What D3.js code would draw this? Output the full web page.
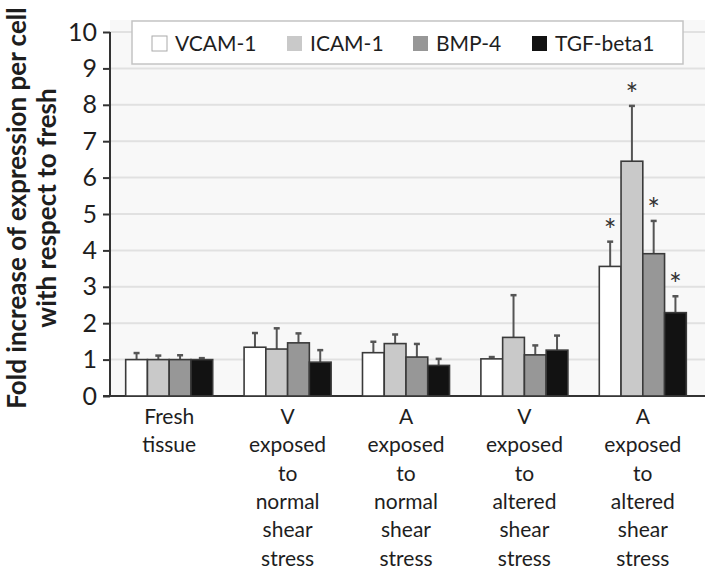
<!DOCTYPE html>
<html>
<head>
<meta charset="utf-8">
<script src="https://cdn.jsdelivr.net/npm/d3@7"></script>
<style>
  body { margin: 0; background: #fff; }
  text { font-family: Lato, "Open Sans", sans-serif; fill: #1e1e1e; }
</style>
</head>
<body>
<svg id="chart" width="714" height="576"></svg>
<script>
// categories (x axis), one label line per entry
var groups = ["fresh", "vNormal", "aNormal", "vAltered", "aAltered"];
var groupLabels = [
    ["Fresh", "tissue"],
    ["V", "exposed", "to", "normal", "shear", "stress"],
    ["A", "exposed", "to", "normal", "shear", "stress"],
    ["V", "exposed", "to", "altered", "shear", "stress"],
    ["A", "exposed", "to", "altered", "shear", "stress"]
];

var seriesNames = ["VCAM-1", "ICAM-1", "BMP-4", "TGF-beta1"];
var seriesColors = ["#ffffff", "#c9c9c9", "#979797", "#121212"];

// mean fold increase, per series, per group
var vcam = [1.00, 1.34, 1.19, 1.02, 3.56];
var icam = [1.00, 1.29, 1.44, 1.61, 6.45];
var bmp4 = [1.00, 1.46, 1.07, 1.13, 3.91];
var tgfb = [1.00, 0.93, 0.84, 1.26, 2.29];

// upper error bar length
var vcamErr = [0.18, 0.39, 0.30, 0.05, 0.68];
var icamErr = [0.11, 0.57, 0.25, 1.16, 1.52];
var bmp4Err = [0.12, 0.26, 0.36, 0.26, 0.90];
var tgfbErr = [0.04, 0.33, 0.18, 0.40, 0.45];

// significance stars
var vcamSig = [0, 0, 0, 0, 1];
var icamSig = [0, 0, 0, 0, 1];
var bmp4Sig = [0, 0, 0, 0, 1];
var tgfbSig = [0, 0, 0, 0, 1];

var yTicks = [0, 1, 2, 3, 4, 5, 6, 7, 8, 9, 10];

var allValues = [vcam, icam, bmp4, tgfb];
var allErr = [vcamErr, icamErr, bmp4Err, tgfbErr];
var allSig = [vcamSig, icamSig, bmp4Sig, tgfbSig];

var bars = [];
for (var s = 0; s < seriesNames.length; ++s) {
    for (var g = 0; g < groups.length; ++g) {
        bars.push({group: groups[g], series: seriesNames[s], color: seriesColors[s],
                   value: allValues[s][g], err: allErr[s][g], sig: allSig[s][g]});
    }
}

var svg = d3.select("#chart");
var plotLeft = 110, plotRight = 705, plotTop = 20, plotBottom = 396;

var x0 = d3.scaleBand().domain(groups).range([110, 702])
    .paddingInner(0.265).paddingOuter(0.1325);
var x1 = d3.scaleBand().domain(seriesNames).range([0, x0.bandwidth()]);
var y = d3.scaleLinear().domain([0, 10]).range([396, 32]);

function barMid(d) { return x0(d.group) + x1(d.series) + x1.bandwidth() / 2; }

// plot background
svg.append("rect")
    .attr("x", plotLeft).attr("y", plotTop)
    .attr("width", plotRight - plotLeft).attr("height", plotBottom - plotTop)
    .attr("fill", "#f8f8f8");

// grid lines
svg.append("g").selectAll("line")
    .data(yTicks.slice(1))
    .enter().append("line")
    .attr("x1", plotLeft).attr("x2", plotRight)
    .attr("y1", function(d) { return y(d); })
    .attr("y2", function(d) { return y(d); })
    .attr("stroke", "#e1e1e1")
    .attr("stroke-width", 2);

// y axis
var yAxis = svg.append("g")
    .attr("transform", "translate(" + plotLeft + ",0)")
    .call(d3.axisLeft(y).tickValues(yTicks).tickSize(7).tickPadding(6));
yAxis.select(".domain").attr("stroke", "#333").attr("stroke-width", 2)
    .attr("d", "M0," + y(10) + "V" + y(0));
yAxis.selectAll(".tick line").attr("stroke", "#333").attr("stroke-width", 2);
yAxis.selectAll(".tick text")
    .style("font-family", "Lato, 'Open Sans', sans-serif")
    .style("font-size", "25px")
    .attr("fill", "#111");

// x axis baseline
svg.append("line")
    .attr("x1", plotLeft - 7).attr("x2", plotRight)
    .attr("y1", y(0)).attr("y2", y(0))
    .attr("stroke", "#333").attr("stroke-width", 2);

// error bars (drawn before bars so the stem starts at the bar top)
var errG = svg.append("g");
errG.selectAll("line.stem")
    .data(bars).enter().append("line")
    .attr("class", "stem")
    .attr("x1", barMid).attr("x2", barMid)
    .attr("y1", function(d) { return y(d.value); })
    .attr("y2", function(d) { return y(d.value + d.err); })
    .attr("stroke", "#555").attr("stroke-width", 2);
errG.selectAll("line.cap")
    .data(bars).enter().append("line")
    .attr("class", "cap")
    .attr("x1", function(d) { return barMid(d) - 3; })
    .attr("x2", function(d) { return barMid(d) + 3; })
    .attr("y1", function(d) { return y(d.value + d.err); })
    .attr("y2", function(d) { return y(d.value + d.err); })
    .attr("stroke", "#555").attr("stroke-width", 2.5);

// bars
svg.append("g").selectAll("rect")
    .data(bars).enter().append("rect")
    .attr("x", function(d) { return x0(d.group) + x1(d.series); })
    .attr("y", function(d) { return y(d.value); })
    .attr("width", x1.bandwidth())
    .attr("height", function(d) { return y(0) - y(d.value); })
    .attr("fill", function(d) { return d.color; })
    .attr("stroke", "#3a3a3a")
    .attr("stroke-width", 1.6);

// significance stars
svg.append("g").selectAll("text")
    .data(bars.filter(function(d) { return d.sig; }))
    .enter().append("text")
    .attr("x", barMid)
    .attr("y", function(d) { return y(d.value + d.err) - 1; })
    .attr("text-anchor", "middle")
    .style("font-size", "30px")
    .style("fill", "#333")
    .text("*");

// x axis labels
var xl = svg.append("g").selectAll("g")
    .data(groups).enter().append("g")
    .attr("transform", function(d) { return "translate(" + (x0(d) + x0.bandwidth() / 2) + ",0)"; });
xl.each(function(d, i) {
    d3.select(this).selectAll("text")
        .data(groupLabels[i]).enter().append("text")
        .attr("x", 0)
        .attr("y", function(t, j) { return 424 + j * 28.3; })
        .attr("text-anchor", "middle")
        .style("font-size", "21px")
        .text(function(t) { return t; });
});

// y axis title
var yTitle = svg.append("text")
    .attr("transform", "translate(26,208) rotate(-90)")
    .attr("text-anchor", "middle")
    .style("font-size", "26px")
    .style("font-weight", "bold");
yTitle.append("tspan").attr("x", 0).attr("dy", 0).text("Fold increase of expression per cell");
yTitle.append("tspan").attr("x", 0).attr("dy", 30).text("with respect to fresh");

// legend
var legend = svg.append("g");
legend.append("rect")
    .attr("x", 132).attr("y", 21)
    .attr("width", 551).attr("height", 43)
    .attr("fill", "#fff")
    .attr("stroke", "#c4c4c4").attr("stroke-width", 1.5);
var legendX = [152, 287, 413, 532];
var items = legend.selectAll("g.item")
    .data(seriesNames).enter().append("g")
    .attr("class", "item")
    .attr("transform", function(d, i) { return "translate(" + legendX[i] + ",36)"; });
items.append("rect")
    .attr("width", 15).attr("height", 15)
    .attr("fill", function(d, i) { return seriesColors[i]; })
    .attr("stroke", function(d, i) { return i === 0 ? "#aaa" : "none"; });
items.append("text")
    .attr("x", 23).attr("y", 15)
    .style("font-size", "21px")
    .text(function(d) { return d; });
</script>
</body>
</html>
